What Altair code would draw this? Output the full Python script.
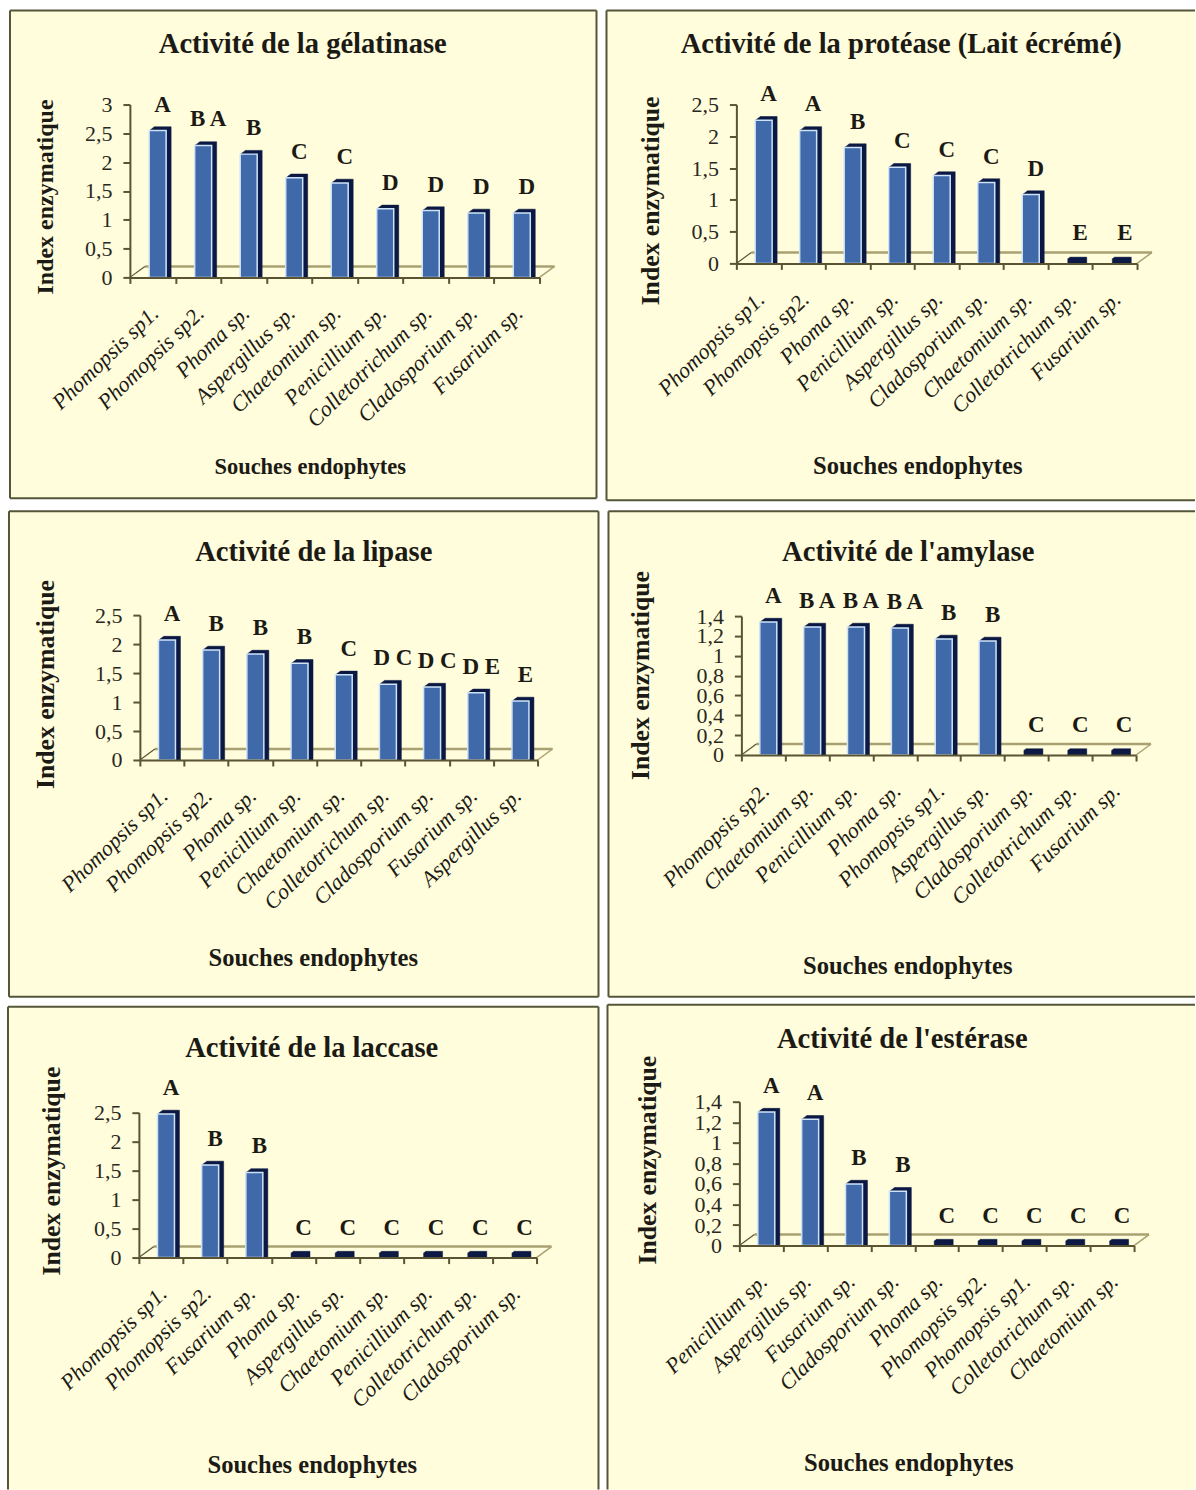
import altair as alt
import pandas as pd

# Activity indices for each enzyme, strains in plotted order
gel_strains = ["Phomopsis sp1.", "Phomopsis sp2.", "Phoma sp.", "Aspergillus sp.", "Chaetomium sp.",
               "Penicillium sp.", "Colletotrichum sp.", "Cladosporium sp.", "Fusarium sp."]
gel_values = [2.48, 2.22, 2.07, 1.66, 1.57, 1.12, 1.09, 1.05, 1.05]
gel_groups = ["A", "B A", "B", "C", "C", "D", "D", "D", "D"]

pro_strains = ["Phomopsis sp1.", "Phomopsis sp2.", "Phoma sp.", "Penicillium sp.", "Aspergillus sp.",
               "Cladosporium sp.", "Chaetomium sp.", "Colletotrichum sp.", "Fusarium sp."]
pro_values = [2.19, 2.03, 1.76, 1.45, 1.32, 1.21, 1.02, 0, 0]
pro_groups = ["A", "A", "B", "C", "C", "C", "D", "E", "E"]

lip_strains = ["Phomopsis sp1.", "Phomopsis sp2.", "Phoma sp.", "Penicillium sp.", "Chaetomium sp.",
               "Colletotrichum sp.", "Cladosporium sp.", "Fusarium sp.", "Aspergillus sp."]
lip_values = [2.0, 1.83, 1.76, 1.60, 1.40, 1.24, 1.19, 1.09, 0.95]
lip_groups = ["A", "B", "B", "B", "C", "D C", "D C", "D E", "E"]

amy_strains = ["Phomopsis sp2.", "Chaetomium sp.", "Penicillium sp.", "Phoma sp.", "Phomopsis sp1.",
               "Aspergillus sp.", "Cladosporium sp.", "Colletotrichum sp.", "Fusarium sp."]
amy_values = [1.30, 1.25, 1.25, 1.24, 1.13, 1.11, 0, 0, 0]
amy_groups = ["A", "B A", "B A", "B A", "B", "B", "C", "C", "C"]

lac_strains = ["Phomopsis sp1.", "Phomopsis sp2.", "Fusarium sp.", "Phoma sp.", "Aspergillus sp.",
               "Chaetomium sp.", "Penicillium sp.", "Colletotrichum sp.", "Cladosporium sp."]
lac_values = [2.41, 1.53, 1.40, 0, 0, 0, 0, 0, 0]
lac_groups = ["A", "B", "B", "C", "C", "C", "C", "C", "C"]

est_strains = ["Penicillium sp.", "Aspergillus sp.", "Fusarium sp.", "Cladosporium sp.", "Phoma sp.",
               "Phomopsis sp2.", "Phomopsis sp1.", "Colletotrichum sp.", "Chaetomium sp."]
est_values = [1.26, 1.19, 0.56, 0.49, 0, 0, 0, 0, 0]
est_groups = ["A", "A", "B", "B", "C", "C", "C", "C", "C"]

ticks_half = [0, 0.5, 1, 1.5, 2, 2.5]
ticks_half_3 = [0, 0.5, 1, 1.5, 2, 2.5, 3]
ticks_fifth = [0, 0.2, 0.4, 0.6, 0.8, 1, 1.2, 1.4]

SERIF = "Liberation Serif"
PANEL_FILL = "#FFFDDC"
FRAME = "#55553A"
AXIS = "#5A5432"
FLOOR = "#A9A172"
BAR = "#3F69A9"
BAR_EDGE = "#CFE3F8"
DEPTH = "#0D1A45"
INK = "#1C1A14"

# Each panel's view is one whole grid cell of the page; the scale ranges and
# axis offsets then place the plot inside it.
COL_X = [0, 603, 1196]
ROW_Y = [0, 505, 1002, 1490]


def panel(col, row, title, strains, values, groups, ticks, frame, axis_box,
          title_pos, xtitle_pos, ytitle_pos, xtitle_size=24.6, ytitle_size=25.7):
    left, top, right, bottom, open_right, open_bottom = frame
    x0, xn, y0, yt = axis_box
    cell_x, cell_y = COL_X[col], ROW_Y[row]
    cell_w, cell_h = COL_X[col + 1] - cell_x, ROW_Y[row + 1] - cell_y
    rx = lambda v: v - cell_x
    ry = lambda v: v - cell_y

    df = pd.DataFrame({"souche": strains, "index": values, "groupe": groups})
    x_scale = alt.Scale(domain=strains, range=[rx(x0), rx(xn)], paddingInner=0, paddingOuter=0)
    y_scale = alt.Scale(domain=[0, ticks[-1]], range=[ry(y0), ry(yt)], nice=False)

    x_enc = alt.X("souche:N", sort=strains, scale=x_scale, axis=alt.Axis(
        offset=ry(y0) - cell_h,
        title="Souches endophytes", titleX=rx(xtitle_pos[0]), titleY=xtitle_pos[1] - y0,
        titleFont=SERIF, titleFontSize=xtitle_size, titleFontWeight="bold", titleColor=INK,
        titleAlign="center", titleBaseline="middle", titleAngle=0,
        tickBand="extent", tickSize=6, tickWidth=2, tickColor=AXIS,
        domainColor=AXIS, domainWidth=2, labelAngle=-44, labelAlign="right", labelBaseline="middle",
        labelFont=SERIF, labelFontStyle="italic", labelFontSize=22, labelColor=INK,
        labelPadding=26, labelOffset=2, labelLimit=300, labelOverlap=False, labelBound=False,
        labelFlush=False, grid=False, zindex=1))
    y_enc = alt.Y("index:Q", scale=y_scale, axis=alt.Axis(
        offset=-rx(x0),
        title="Index enzymatique", titleX=ytitle_pos[0] - x0, titleY=ry(ytitle_pos[1]),
        titleFont=SERIF, titleFontSize=ytitle_size, titleFontWeight="bold", titleColor=INK,
        titleAlign="center", titleBaseline="middle", titleAngle=270,
        values=ticks, tickSize=7, tickWidth=2, tickColor=AXIS, domainColor=AXIS, domainWidth=2,
        labelExpr="replace(format(datum.value, '~g'), '.', ',')",
        labelFont=SERIF, labelFontSize=22, labelColor="#2A281E", labelPadding=11,
        labelOverlap=False, labelBound=False, labelFlush=False, grid=False, zindex=1))

    blank = alt.Chart(alt.Data(values=[{}]))

    def edge(mark_kw, **enc):
        return blank.mark_rule(**mark_kw).encode(**enc)

    frame_style = {"color": FRAME, "strokeWidth": 2}
    layers = [
        blank.mark_rect(fill=PANEL_FILL).encode(
            x=alt.value(rx(left)), x2=alt.value(rx(right)),
            y=alt.value(ry(top)), y2=alt.value(ry(bottom))),
        edge(frame_style, x=alt.value(rx(left)), y=alt.value(ry(top)), y2=alt.value(ry(bottom))),
        edge(frame_style, x=alt.value(rx(left)), x2=alt.value(rx(right)), y=alt.value(ry(top))),
    ]
    if not open_right:
        layers.append(edge(frame_style, x=alt.value(rx(right)), y=alt.value(ry(top)), y2=alt.value(ry(bottom))))
    if not open_bottom:
        layers.append(edge(frame_style, x=alt.value(rx(left)), x2=alt.value(rx(right)), y=alt.value(ry(bottom))))

    # Floor of the 3D plot: back edge and the two receding sides
    depth_x, depth_y = 15, 11
    layers += [
        edge({"color": FLOOR, "strokeWidth": 2.5}, x=alt.value(rx(x0 + depth_x)), x2=alt.value(rx(xn + depth_x)),
             y=alt.value(ry(y0 - depth_y))),
        edge({"color": AXIS, "strokeWidth": 1.2}, x=alt.value(rx(x0)), x2=alt.value(rx(x0 + depth_x)),
             y=alt.value(ry(y0)), y2=alt.value(ry(y0 - depth_y))),
        edge({"color": FLOOR, "strokeWidth": 1.5}, x=alt.value(rx(xn)), x2=alt.value(rx(xn + depth_x)),
             y=alt.value(ry(y0)), y2=alt.value(ry(y0 - depth_y))),
    ]

    base = alt.Chart(df).encode(x=x_enc, y=y_enc)
    bars = base.encode(y2=alt.datum(0))
    front_dx, front_dy = 5, -4
    # Side and top faces: the same bar stepped back in depth, farthest first.
    # Empty bars keep only the nearest steps, which leaves a thin dash on the floor.
    for k in [5, 4, 3, 2, 1]:
        step = bars if k <= 3 else bars.transform_filter("datum.index > 0")
        layers.append(step.mark_bar(size=17, color=DEPTH, stroke=DEPTH, strokeWidth=0.5,
                                    xOffset=front_dx + k, yOffset=front_dy - 0.75 * k))
    layers.append(bars.transform_filter("datum.index > 0").mark_bar(
        size=17, color=BAR, stroke=BAR_EDGE, strokeWidth=1.5, xOffset=front_dx, yOffset=front_dy))

    layers.append(base.mark_text(
        font=SERIF, fontSize=23, fontWeight="bold", color=INK, dx=10, dy=-30, baseline="middle"
    ).encode(text="groupe:N"))

    layers.append(blank.mark_text(
        font=SERIF, fontSize=28.6, fontWeight="bold", color=INK, align="center", baseline="middle"
    ).encode(x=alt.value(rx(title_pos[0])), y=alt.value(ry(title_pos[1])), text=alt.value(title)))

    return alt.layer(*layers).properties(width=cell_w, height=cell_h)


charts = [
    panel(0, 0, "Activité de la gélatinase", gel_strains, gel_values, gel_groups, ticks_half_3,
          (10, 10, 597, 498, False, False), (130, 540, 277, 104), (303, 43), (310, 466), (46, 196),
          xtitle_size=22.5, ytitle_size=24),
    panel(1, 0, "Activité de la protéase (Lait écrémé)", pro_strains, pro_values, pro_groups, ticks_half,
          (607, 10, 1196, 500, True, False), (737, 1138, 263, 104), (902, 43), (918, 466), (651, 200)),
    panel(0, 1, "Activité de la lipase", lip_strains, lip_values, lip_groups, ticks_half,
          (9, 511, 599, 997, False, False), (140, 538, 760, 615), (314, 552), (313, 959), (46, 684)),
    panel(1, 1, "Activité de l'amylase", amy_strains, amy_values, amy_groups, ticks_fifth,
          (609, 511, 1196, 997, True, False), (742, 1137, 755, 616), (909, 552), (908, 967), (641, 675)),
    panel(0, 2, "Activité de la laccase", lac_strains, lac_values, lac_groups, ticks_half,
          (8, 1007, 599, 1490, False, True), (139, 537, 1258, 1113), (312, 1048), (312, 1466), (52, 1171)),
    panel(1, 2, "Activité de l'estérase", est_strains, est_values, est_groups, ticks_fifth,
          (608, 1005, 1196, 1490, True, True), (740, 1135, 1246, 1102), (903, 1039), (909, 1464), (648, 1160)),
]

chart = alt.concat(*charts, columns=2, spacing=0, bounds="flush").properties(
    padding={"left": -8, "top": 0, "right": 0, "bottom": 0}, background="white"
).configure_view(stroke=None)

chart.save("out.html", embed_options={"renderer": "svg", "actions": False})
